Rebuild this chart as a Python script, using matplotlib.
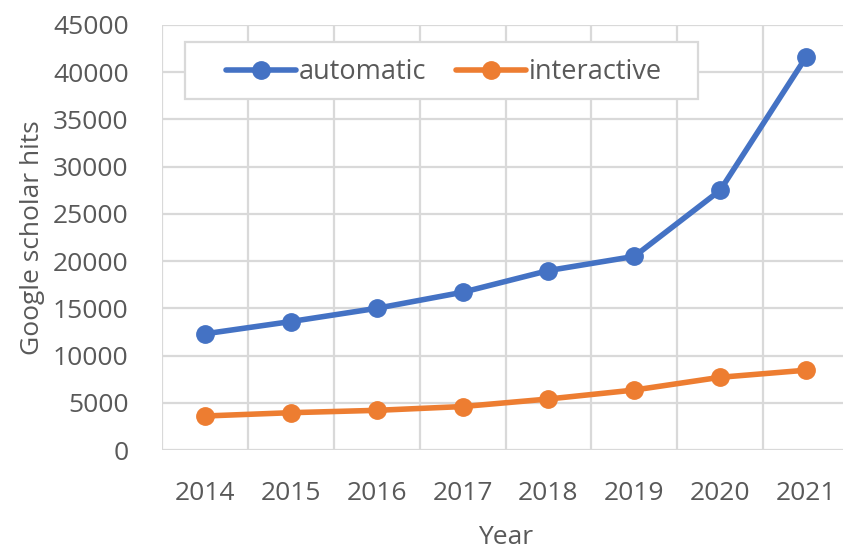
import matplotlib.pyplot as plt
from matplotlib.patches import Rectangle
import numpy as np

years = ["2014", "2015", "2016", "2017", "2018", "2019", "2020", "2021"]
automatic = [12300, 13600, 15000, 16700, 19000, 20500, 27500, 41600]
interactive = [3600, 3950, 4200, 4600, 5400, 6350, 7700, 8450]

grey_text = "#595959"
grid_col = "#d9d9d9"
W, H = 843, 552

plt.rcParams["font.family"] = ["Open Sans", "DejaVu Sans"]

fig = plt.figure(figsize=(W / 100, H / 100), dpi=100)
ax = fig.add_axes([162 / W, 1 - 450 / H, (849 - 162) / W, (450 - 25) / H])

x = np.arange(len(years))
ax.plot(x, automatic, color="#4472c4", lw=4, marker="o", ms=12.5,
        label="automatic", solid_capstyle="round", zorder=3)
ax.plot(x, interactive, color="#ed7d31", lw=4, marker="o", ms=12.5,
        label="interactive", solid_capstyle="round", zorder=3)

ax.set_xlim(-0.5, len(years) - 0.5)
ax.set_ylim(0, 45000)
ax.set_yticks(np.arange(0, 45001, 5000))
ax.set_xticks(x)
ax.set_xticklabels(years)

# category boundaries carry the vertical gridlines
ax.set_xticks(np.arange(-0.5, len(years)), minor=True)
ax.grid(True, which="minor", axis="x", color=grid_col, lw=1.6)
ax.grid(True, which="major", axis="y", color=grid_col, lw=1.6)
ax.set_axisbelow(True)

for s in ax.spines.values():
    s.set_visible(False)
ax.tick_params(which="both", length=0)
ax.tick_params(axis="both", labelsize=19, labelcolor=grey_text)
ax.tick_params(axis="y", pad=24)
ax.tick_params(axis="x", pad=22)

ax.set_ylabel("Google scholar hits", fontsize=19, color=grey_text, labelpad=6)
ax.set_xlabel("Year", fontsize=19, color=grey_text, labelpad=14)

# legend box drawn by hand, entries placed inside it
box = Rectangle((185 / W, 1 - 99 / H), (698 - 185) / W, (99 - 42) / H,
                transform=fig.transFigure, facecolor="white",
                edgecolor=grid_col, lw=1.6, zorder=4)
ax.add_patch(box)
leg = ax.legend(loc="center left", bbox_to_anchor=(212 / W, 1 - 72 / H),
                bbox_transform=fig.transFigure, ncol=2, fontsize=19.5,
                frameon=False, borderpad=0, handlelength=2.6,
                columnspacing=1.1, handletextpad=0.1, labelcolor=grey_text)
leg.set_zorder(5)

fig.savefig("out.png", dpi=100)
